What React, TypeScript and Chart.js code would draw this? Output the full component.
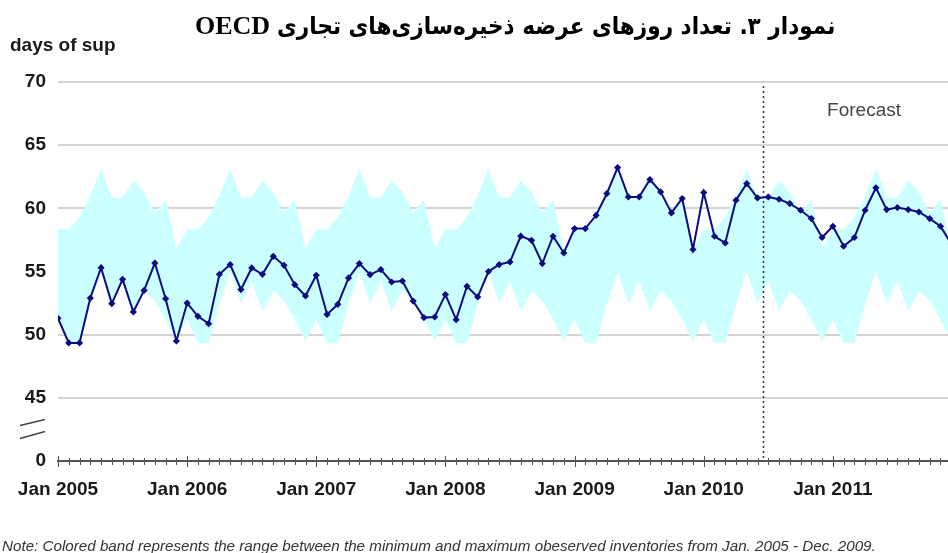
import React, { useEffect, useRef } from "react";
import { Chart, registerables } from "chart.js";

Chart.register(...registerables);

// Days of supply, monthly, Jan 2005 .. Dec 2011
const supply2005 = [51.3, 49.35, 49.35, 52.9, 55.3, 52.46, 54.38, 51.8, 53.5, 55.67, 52.85, 49.5];
const supply2006 = [52.5, 51.45, 50.87, 54.78, 55.55, 53.57, 55.28, 54.78, 56.2, 55.49, 53.96, 53.06];
const supply2007 = [54.7, 51.6, 52.4, 54.49, 55.63, 54.75, 55.15, 54.17, 54.25, 52.66, 51.35, 51.4];
const supply2008 = [53.17, 51.19, 53.83, 52.98, 55.0, 55.55, 55.76, 57.8, 57.47, 55.63, 57.79, 56.47];
const supply2009 = [58.4, 58.4, 59.45, 61.17, 63.23, 60.9, 60.9, 62.28, 61.3, 59.64, 60.78, 56.74];
const supply2010 = [61.25, 57.79, 57.26, 60.64, 61.96, 60.82, 60.9, 60.72, 60.38, 59.85, 59.19, 57.69];
const supply2011 = [58.58, 57.0, 57.69, 59.85, 61.62, 59.9, 60.06, 59.9, 59.71, 59.19, 58.58, 57.2];

// Seasonal band (per calendar month), Jan..Dec
const bandUpper = [58.35, 58.35, 59.3, 61.0, 63.15, 60.85, 60.85, 62.2, 61.3, 59.65, 60.7, 56.8];
const bandLower = [51.2, 49.33, 49.33, 52.4, 55.0, 52.46, 54.25, 51.85, 53.45, 52.7, 51.2, 49.5];

const xTickLabels = ["Jan 2005", "Jan 2006", "Jan 2007", "Jan 2008", "Jan 2009", "Jan 2010", "Jan 2011"];
const yTickValues = [40, 45, 50, 55, 60, 65, 70];
const yTickLabels = ["0", "45", "50", "55", "60", "65", "70"];

const forecastStart = 65.5; // between Jun and Jul 2010
const forecastLabel = "Forecast";

const titleFa = "نمودار ۳. تعداد روزهای عرضه ذخیره‌سازی‌های تجاری";
const titleLatin = "OECD";
const yUnitText = "days of sup";
const noteText =
  "Note:  Colored band represents the range between the minimum and maximum obeserved inventories from Jan. 2005 - Dec. 2009.";

const FONT = '"Liberation Sans", Arial, sans-serif';

export default function App() {
  const ref = useRef<HTMLCanvasElement | null>(null);

  useEffect(() => {
    const canvas = ref.current;
    if (!canvas) return;

    const supply = [
      ...supply2005,
      ...supply2006,
      ...supply2007,
      ...supply2008,
      ...supply2009,
      ...supply2010,
      ...supply2011,
    ];
    const linePts = supply.map((v, i) => ({ x: i, y: v }));
    const upperPts = supply.map((_, i) => ({ x: i, y: bandUpper[i % 12] }));
    const lowerPts = supply.map((_, i) => ({ x: i, y: bandLower[i % 12] }));

    const decorPlugin = {
      id: "decor",
      beforeDatasetsDraw(chart: any) {
        const { ctx, chartArea, scales } = chart;
        const x = Math.round(scales.x.getPixelForValue(forecastStart)) + 0.5;
        ctx.save();
        ctx.strokeStyle = "#333";
        ctx.lineWidth = 1.5;
        ctx.setLineDash([2, 3]);
        ctx.beginPath();
        ctx.moveTo(x, chartArea.top + 4);
        ctx.lineTo(x, chartArea.bottom);
        ctx.stroke();
        ctx.restore();
      },
      afterDraw(chart: any) {
        const { ctx, chartArea, scales } = chart;
        const xs = scales.x;
        const ys = scales.y;
        ctx.save();
        // month ticks across the axis line
        ctx.strokeStyle = "#555";
        ctx.lineWidth = 1;
        const yb = chartArea.bottom;
        for (let i = 0; i <= Math.ceil(xs.max); i++) {
          const px = Math.round(xs.getPixelForValue(i)) + 0.5;
          if (px > chartArea.right) break;
          const major = i % 12 === 0;
          ctx.beginPath();
          ctx.moveTo(px, yb - (major ? 5 : 3));
          ctx.lineTo(px, yb + (major ? 6 : 4));
          ctx.stroke();
        }
        // axis break marks
        const yc = ys.getPixelForValue(42.5);
        const l = chartArea.left;
        ctx.strokeStyle = "#444";
        ctx.lineWidth = 1.5;
        ctx.beginPath();
        ctx.moveTo(l - 38, yc - 4);
        ctx.lineTo(l - 13, yc - 10);
        ctx.moveTo(l - 38, yc + 9);
        ctx.lineTo(l - 13, yc + 2);
        ctx.stroke();
        // forecast label
        ctx.fillStyle = "#444";
        ctx.font = `19px ${FONT}`;
        ctx.textAlign = "center";
        ctx.textBaseline = "middle";
        ctx.fillText(forecastLabel, xs.getPixelForValue(74.9), ys.getPixelForValue(67.7));
        ctx.restore();
      },
    };

    const chart = new Chart(canvas, {
      type: "line",
      data: {
        datasets: [
          {
            label: "max",
            data: upperPts,
            borderWidth: 0,
            pointRadius: 0,
            fill: "+1",
            backgroundColor: "#ccffff",
            borderColor: "rgba(0,0,0,0)",
          },
          {
            label: "min",
            data: lowerPts,
            borderWidth: 0,
            pointRadius: 0,
            fill: false,
            borderColor: "rgba(0,0,0,0)",
          },
          {
            label: "days of supply",
            data: linePts,
            borderColor: "#0c0c80",
            borderWidth: 2,
            pointStyle: "rectRot",
            pointRadius: 3.6,
            pointBackgroundColor: "#0c0c80",
            pointBorderColor: "#0c0c80",
            pointBorderWidth: 0,
            fill: false,
            tension: 0,
          },
        ],
      },
      options: {
        animation: false,
        responsive: false,
        maintainAspectRatio: false,
        events: [],
        layout: { autoPadding: false, padding: { top: 82, left: 0, right: 0, bottom: 0 } },
        plugins: {
          legend: { display: false },
          tooltip: { enabled: false },
          filler: { drawTime: "beforeDatasetsDraw" },
        },
        scales: {
          x: {
            type: "linear",
            min: 0,
            max: 82.7,
            grid: { display: false, drawTicks: false },
            border: { display: true, color: "#555", width: 2 },
            afterBuildTicks: (scale: any) => {
              scale.ticks = xTickLabels.map((_, k) => ({ value: k * 12 }));
            },
            ticks: {
              autoSkip: false,
              maxRotation: 0,
              padding: 17,
              color: "#1a1a1a",
              font: { family: FONT, size: 19, weight: "bold" },
              callback: (_v: any, index: number) => xTickLabels[index],
            },
            afterFit: (scale: any) => {
              scale.height = 92;
              scale.paddingLeft = 0;
              scale.paddingRight = 0;
            },
          },
          y: {
            type: "linear",
            min: 40,
            max: 70,
            afterBuildTicks: (scale: any) => {
              scale.ticks = yTickValues.map((v) => ({ value: v }));
            },
            grid: {
              drawTicks: false,
              lineWidth: 2,
              color: (c: any) => (c.tick && c.tick.value === 40 ? "rgba(0,0,0,0)" : "#d4d4d4"),
            },
            border: { display: false },
            ticks: {
              padding: 12,
              color: "#1a1a1a",
              font: { family: FONT, size: 19, weight: "bold" },
              callback: (_v: any, index: number) => yTickLabels[index],
            },
            afterFit: (scale: any) => {
              scale.width = 58;
              scale.paddingTop = 0;
              scale.paddingBottom = 0;
            },
          },
        },
      },
      plugins: [decorPlugin],
    } as any);

    return () => chart.destroy();
  }, []);

  return (
    <div
      style={{
        position: "absolute",
        left: 0,
        top: 0,
        width: 948,
        height: 553,
        background: "#fff",
        overflow: "hidden",
      }}
    >
      <canvas ref={ref} width={948} height={553} style={{ position: "absolute", left: 0, top: 0 }} />
      <div
        style={{
          position: "absolute",
          right: 113,
          top: 10,
          direction: "rtl",
          whiteSpace: "nowrap",
          fontFamily: '"DejaVu Sans", "Liberation Serif", serif',
          fontWeight: "bold",
          fontSize: 24,
          lineHeight: "32px",
          color: "#000",
          transform: "scaleX(0.9)",
          transformOrigin: "right center",
        }}
      >
        {titleFa}
      </div>
      <div
        style={{
          position: "absolute",
          left: 195,
          top: 10,
          whiteSpace: "nowrap",
          fontFamily: '"Liberation Serif", "Times New Roman", serif',
          fontWeight: "bold",
          fontSize: 26,
          lineHeight: "32px",
          color: "#000",
        }}
      >
        {titleLatin}
      </div>
      <div
        style={{
          position: "absolute",
          left: 10,
          top: 34,
          fontFamily: FONT,
          fontWeight: "bold",
          fontSize: 19,
          lineHeight: "22px",
          color: "#1a1a1a",
          whiteSpace: "nowrap",
        }}
      >
        {yUnitText}
      </div>
      <div
        style={{
          position: "absolute",
          left: 2,
          top: 537,
          fontFamily: FONT,
          fontStyle: "italic",
          fontSize: 15.2,
          lineHeight: "18px",
          color: "#333",
          whiteSpace: "nowrap",
        }}
      >
        {noteText}
      </div>
    </div>
  );
}
